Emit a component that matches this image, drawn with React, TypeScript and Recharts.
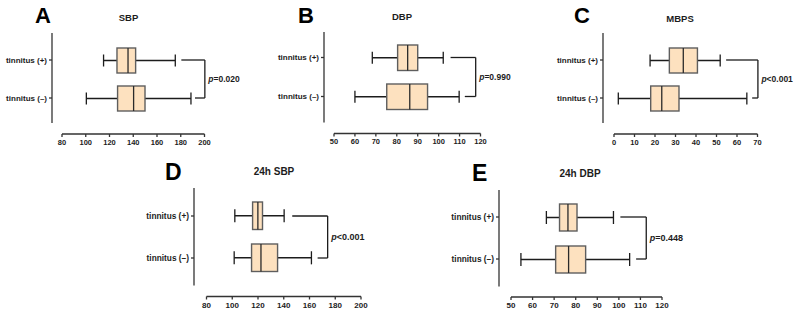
import { ComposedChart, Bar, XAxis, YAxis, ReferenceLine } from 'recharts';

const groups = ['tinnitus (+)', 'tinnitus (–)'];

// five-number summaries: [min, q1, median, q3, max]
const sbpPlus = [115, 126.3, 135.6, 142, 175.4];
const sbpMinus = [100.5, 126.8, 140.3, 149.9, 188.6];
const dbpPlus = [68.3, 80.4, 85.2, 90, 102.2];
const dbpMinus = [60, 75.2, 86.2, 94.7, 109.8];
const mbpsPlus = [17.6, 27, 33.8, 40.7, 51.8];
const mbpsMinus = [2.1, 17.9, 23.3, 31.7, 64.8];
const sbp24Plus = [102, 115.8, 119.9, 123.5, 140.3];
const sbp24Minus = [101.5, 115, 122.3, 135.2, 161.5];
const dbp24Plus = [66.4, 72.5, 76.4, 80.6, 97.5];
const dbp24Minus = [54.6, 70.7, 76.7, 84.6, 105];

// significance brackets: [top arm start, bottom arm start, bracket x]
const sbpBracket = [180.5, 192, 200.3];
const dbpBracket = [105.7, 112.5, 117.7];
const mbpsBracket = [54.7, 67.4, 70.2];
const sbp24Bracket = [146.6, 166.3, 174.1];
const dbp24Bracket = [100.7, 108, 112.7];

const pTexts = ['=0.020', '=0.990', '<0.001', '<0.001', '=0.448'];
const titles = ['SBP', 'DBP', 'MBPS', '24h SBP', '24h DBP'];
const letters = ['A', 'B', 'C', 'D', 'E'];

const ticksSbp = [80, 100, 120, 140, 160, 180, 200];
const ticksDbp = [50, 60, 70, 80, 90, 100, 110, 120];
const ticksMbps = [0, 10, 20, 30, 40, 50, 60, 70];

const FONT = '"Liberation Sans", Arial, Helvetica, sans-serif';
const INK = '#1c1c1c';
const AXIS = '#333';
const BOX_FILL = '#FDE1BF';
const BOX_EDGE = '#5e5e5e';

interface Layout {
  axisX: number; top: number; c1: number; c2: number; yEnd: number; axisY: number;
  xStart: number; xEnd: number; box: number;
  letterX: number; letterY: number; titleX: number; titleY: number;
  catFont: number; tickFont: number; titleFont: number; pFont: number; letterFont: number;
}

const topRow = { catFont: 8, tickFont: 7.5, titleFont: 9.5, pFont: 8.5, letterFont: 22 };
const bottomRow = { catFont: 8.3, tickFont: 8, titleFont: 10, pFont: 9, letterFont: 23 };

const panels = [
  {
    plus: sbpPlus, minus: sbpMinus, bracket: sbpBracket, ticks: ticksSbp,
    layout: { axisX: 52, top: 33, c1: 60, c2: 98, yEnd: 123, axisY: 134, xStart: 62, xEnd: 204.5, box: 25,
      letterX: 35, letterY: 23.3, titleX: 128.5, titleY: 21, ...topRow } as Layout,
  },
  {
    plus: dbpPlus, minus: dbpMinus, bracket: dbpBracket, ticks: ticksDbp,
    layout: { axisX: 324, top: 32, c1: 57.5, c2: 96.5, yEnd: 122.5, axisY: 133.5, xStart: 334, xEnd: 480.5, box: 25.5,
      letterX: 298, letterY: 22.7, titleX: 402, titleY: 19.5, ...topRow } as Layout,
  },
  {
    plus: mbpsPlus, minus: mbpsMinus, bracket: mbpsBracket, ticks: ticksMbps,
    layout: { axisX: 603, top: 33, c1: 60, c2: 98, yEnd: 123, axisY: 134, xStart: 614, xEnd: 757.5, box: 25,
      letterX: 574, letterY: 23.3, titleX: 680, titleY: 21.5, ...topRow } as Layout,
  },
  {
    plus: sbp24Plus, minus: sbp24Minus, bracket: sbp24Bracket, ticks: ticksSbp,
    layout: { axisX: 194, top: 188, c1: 216, c2: 258, yEnd: 285.5, axisY: 296.5, xStart: 206.5, xEnd: 361, box: 27.5,
      letterX: 165, letterY: 180, titleX: 274, titleY: 175, ...bottomRow } as Layout,
  },
  {
    plus: dbp24Plus, minus: dbp24Minus, bracket: dbp24Bracket, ticks: ticksDbp,
    layout: { axisX: 498.5, top: 190, c1: 217, c2: 259, yEnd: 286.5, axisY: 297, xStart: 510.5, xEnd: 661.5, box: 27,
      letterX: 472, letterY: 181, titleX: 580, titleY: 177, ...bottomRow } as Layout,
  },
];

// whisker + box + median, positioned inside the bar's [min, max] extent
function BoxShape(props: any) {
  const { x, y, width, height, payload } = props;
  const [lo, q1, med, q3, hi] = payload.stats as number[];
  const px = (v: number) => x + ((v - lo) / (hi - lo)) * width;
  const cy = y + height / 2;
  const cap = height * 0.24;
  return (
    <g>
      <line x1={px(lo)} x2={px(q1)} y1={cy} y2={cy} stroke={INK} strokeWidth={1.3} />
      <line x1={px(q3)} x2={px(hi)} y1={cy} y2={cy} stroke={INK} strokeWidth={1.3} />
      <line x1={px(lo)} x2={px(lo)} y1={cy - cap} y2={cy + cap} stroke={INK} strokeWidth={1.3} />
      <line x1={px(hi)} x2={px(hi)} y1={cy - cap} y2={cy + cap} stroke={INK} strokeWidth={1.3} />
      <rect x={px(q1)} y={y} width={px(q3) - px(q1)} height={height}
        fill={BOX_FILL} stroke={BOX_EDGE} strokeWidth={1.4} />
      <line x1={px(med)} x2={px(med)} y1={y} y2={y + height} stroke="#2a2a2a" strokeWidth={1.3} />
    </g>
  );
}

function pLabel(text: string, fontSize: number) {
  return (props: any) => {
    const vb = props.viewBox || {};
    const x = (vb.x ?? 0) + (vb.width ?? 0) + 3.5;
    const y = (vb.y ?? 0) + (vb.height ?? 0) / 2;
    return (
      <text x={x} y={y} dominantBaseline="central" fontSize={fontSize} fontWeight={700} fill={INK}>
        <tspan fontStyle="italic">p</tspan>
        <tspan>{text}</tspan>
      </text>
    );
  };
}

function Panel({ idx }: { idx: number }) {
  const { plus, minus, bracket, ticks, layout: L } = panels[idx];
  const data = [
    { group: groups[0], stats: plus },
    { group: groups[1], stats: minus },
  ];
  const band = L.c2 - L.c1;
  const padTop = L.c1 - band / 2 - L.top;
  const padBottom = L.axisY - (L.c2 + band / 2);
  const yw = 100;
  const width = yw + (L.xEnd - L.axisX) + 60;
  const height = L.axisY + 22;
  const xPad = L.xStart - L.axisX;
  const [armTop, armBottom, bx] = bracket;

  return (
    <div style={{ position: 'absolute', left: L.axisX - yw, top: 0 }}>
      <ComposedChart
        width={width}
        height={height}
        layout="vertical"
        data={data}
        margin={{ top: L.top, right: 60, bottom: 0, left: 0 }}
        style={{ overflow: 'visible' }}
      >
        <XAxis
          type="number"
          domain={[ticks[0], ticks[ticks.length - 1]]}
          ticks={ticks}
          interval={0}
          allowDataOverflow
          padding={{ left: xPad, right: 0 }}
          height={22}
          tickSize={3}
          tickMargin={2.5}
          tick={{ fontSize: L.tickFont, fontWeight: 700, fill: INK }}
          tickLine={{ stroke: AXIS, strokeWidth: 1.3 }}
          axisLine={{ stroke: AXIS, strokeWidth: 1.3, strokeDasharray: `0 ${xPad} 2000 0` }}
        />
        <YAxis
          type="category"
          dataKey="group"
          width={yw}
          padding={{ top: padTop, bottom: padBottom }}
          tickSize={3}
          tickMargin={2}
          tick={{ fontSize: L.catFont, fontWeight: 700, fill: INK }}
          tickLine={{ stroke: AXIS, strokeWidth: 1.3 }}
          axisLine={{ stroke: AXIS, strokeWidth: 1.3, strokeDasharray: `${L.yEnd - L.top} 2000` }}
        />
        <Bar
          dataKey={(d: any) => [d.stats[0], d.stats[4]]}
          barSize={L.box}
          shape={<BoxShape />}
          isAnimationActive={false}
        />
        <ReferenceLine
          ifOverflow="visible"
          stroke={INK}
          strokeWidth={1.3}
          segment={[{ x: armTop, y: groups[0] }, { x: bx, y: groups[0] }]}
        />
        <ReferenceLine
          ifOverflow="visible"
          stroke={INK}
          strokeWidth={1.3}
          segment={[{ x: armBottom, y: groups[1] }, { x: bx, y: groups[1] }]}
        />
        <ReferenceLine
          ifOverflow="visible"
          stroke={INK}
          strokeWidth={1.3}
          segment={[{ x: bx, y: groups[0] }, { x: bx, y: groups[1] }]}
          label={{ content: pLabel(pTexts[idx], L.pFont) }}
        />
      </ComposedChart>
    </div>
  );
}

export default function App() {
  return (
    <div
      style={{
        position: 'absolute', left: 0, top: 0, width: 796, height: 314,
        overflow: 'hidden', background: '#fff', fontFamily: FONT,
      }}
    >
      {panels.map((_, i) => <Panel key={i} idx={i} />)}
      <svg width={796} height={314} style={{ position: 'absolute', left: 0, top: 0, pointerEvents: 'none' }}>
        {panels.map((p, i) => (
          <g key={i} fontFamily={FONT} fontWeight={700} fill="#000">
            <text x={p.layout.letterX} y={p.layout.letterY} fontSize={p.layout.letterFont}>{letters[i]}</text>
            <text x={p.layout.titleX} y={p.layout.titleY} fontSize={p.layout.titleFont} textAnchor="middle" fill={INK}>
              {titles[i]}
            </text>
          </g>
        ))}
      </svg>
    </div>
  );
}
